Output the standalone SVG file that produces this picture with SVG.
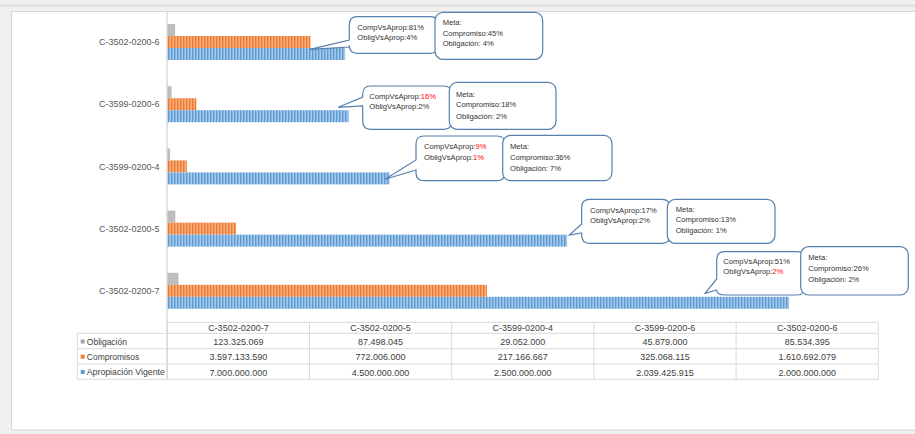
<svg xmlns="http://www.w3.org/2000/svg" width="915" height="434" viewBox="0 0 915 434">
<style>
text{font-family:"Liberation Sans",Arial,sans-serif;fill:#404040}
.cat{font-size:9px;text-anchor:end;fill:#595959}
.tb{font-size:9px;text-anchor:middle}
.lg{font-size:8.5px}
.co{font-size:7.6px;fill:#333}
.red{fill:#ff0000}
.box{fill:#fff;stroke:#5680ad;stroke-width:1.2}
.grid{stroke:#d9d9d9;stroke-width:1;fill:none}
.g{fill:#bdbdbd}
.o{fill:url(#po)}
.b{fill:url(#pb)}
</style>
<defs>
<pattern id="po" width="3" height="12" patternUnits="userSpaceOnUse">
<rect width="3" height="12" fill="#f6ad80"/>
<rect width="1.4" height="12" fill="#ec7a30"/>
</pattern>
<pattern id="pb" width="3" height="12" patternUnits="userSpaceOnUse">
<rect width="3" height="12" fill="#a6c9ea"/>
<rect width="1.4" height="12" fill="#5b9bd5"/>
</pattern>
</defs>
<rect x="0" y="0" width="915" height="434" fill="#f0f0f0"/>
<rect x="0" y="4" width="915" height="3" fill="#e4e4e4"/>
<rect x="11.5" y="11.5" width="905" height="418.5" fill="#fff" stroke="#d6d6d6"/>

<g id="axis">
<line x1="167" y1="12" x2="167" y2="379" stroke="#c8c8c8"/>
</g>

<g id="cat-C-3502-0200-6">
<text class="cat" x="159.5" y="45.2">C-3502-0200-6</text>
<rect class="g" x="167.5" y="24" width="7.6" height="12"/>
<rect class="o" x="167.5" y="36" width="143" height="12"/>
<rect class="b" x="167.5" y="48" width="177.6" height="12"/>
</g>
<g id="cat-C-3599-0200-6">
<text class="cat" x="159.5" y="107.4">C-3599-0200-6</text>
<rect class="g" x="167.5" y="86.2" width="4.1" height="12"/>
<rect class="o" x="167.5" y="98.2" width="28.9" height="12"/>
<rect class="b" x="167.5" y="110.2" width="181.1" height="12"/>
</g>
<g id="cat-C-3599-0200-4">
<text class="cat" x="159.5" y="169.6">C-3599-0200-4</text>
<rect class="g" x="167.5" y="148.4" width="2.6" height="12"/>
<rect class="o" x="167.5" y="160.4" width="19.3" height="12"/>
<rect class="b" x="167.5" y="172.4" width="222" height="12"/>
</g>
<g id="cat-C-3502-0200-5">
<text class="cat" x="159.5" y="231.8">C-3502-0200-5</text>
<rect class="g" x="167.5" y="210.6" width="7.8" height="12"/>
<rect class="o" x="167.5" y="222.6" width="68.6" height="12"/>
<rect class="b" x="167.5" y="234.6" width="399.6" height="12"/>
</g>
<g id="cat-C-3502-0200-7">
<text class="cat" x="159.5" y="294">C-3502-0200-7</text>
<rect class="g" x="167.5" y="272.8" width="11" height="12"/>
<rect class="o" x="167.5" y="284.8" width="319.4" height="12"/>
<rect class="b" x="167.5" y="296.8" width="621.6" height="12"/>
</g>

<g id="connectors"></g>

<g id="callout-1">
<path class="box" d="M357.3,16.7 H430.3 Q438.3,16.7 438.3,24.7 V45.3 Q438.3,53.3 430.3,53.3 H357.3 Q349.3,53.3 349.3,45.3 V47 L310,49.3 L349.3,40 V24.7 Q349.3,16.7 357.3,16.7 Z"/>
<text class="co" x="357.3" y="29.5">CompVsAprop:81%</text>
<text class="co" x="357.3" y="40">ObligVsAprop:4%</text>
</g>
<g id="meta-1">
<rect class="box" x="435" y="12.3" width="107.7" height="47" rx="8"/>
<text class="co" x="442.7" y="25">Meta:</text>
<text class="co" x="442.7" y="35.5">Compromiso:45%</text>
<text class="co" x="442.7" y="46">Obligación: 4%</text>
</g>

<g id="callout-2">
<path class="box" d="M370.7,86 H443.7 Q451.7,86 451.7,94 V121.3 Q451.7,129.3 443.7,129.3 H370.7 Q362.7,129.3 362.7,121.3 V106 L338.3,107.3 L362.7,97 V94 Q362.7,86 370.7,86 Z"/>
<text class="co" x="369.3" y="98.7">CompVsAprop:<tspan class="red">16%</tspan></text>
<text class="co" x="369.3" y="109.3">ObligVsAprop:2%</text>
</g>
<g id="meta-2">
<rect class="box" x="449.3" y="82.3" width="106.7" height="47" rx="8"/>
<text class="co" x="456" y="97">Meta:</text>
<text class="co" x="456" y="107">Compromiso:18%</text>
<text class="co" x="456" y="118.7">Obligación: 2%</text>
</g>

<g id="callout-3">
<path class="box" d="M424,136 H497 Q505,136 505,144 V172.7 Q505,180.7 497,180.7 H424 Q416,180.7 416,172.7 V170 L385,179.3 L416,160 V144 Q416,136 424,136 Z"/>
<text class="co" x="424" y="148.7">CompVsAprop:<tspan class="red">9%</tspan></text>
<text class="co" x="424" y="160">ObligVsAprop:<tspan class="red">1%</tspan></text>
</g>
<g id="meta-3">
<rect class="box" x="502.7" y="135.3" width="109.3" height="45.4" rx="8"/>
<text class="co" x="510" y="148.7">Meta:</text>
<text class="co" x="510" y="160">Compromiso:36%</text>
<text class="co" x="510" y="171.3">Obligación: 7%</text>
</g>

<g id="callout-4">
<path class="box" d="M589.7,199.3 H662 Q670,199.3 670,207.3 V235.3 Q670,243.3 662,243.3 H589.7 Q581.7,243.3 581.7,235.3 V233 L569.3,235 L581.7,224 V207.3 Q581.7,199.3 589.7,199.3 Z"/>
<text class="co" x="590" y="212.7">CompVsAprop:17%</text>
<text class="co" x="590" y="223.3">ObligVsAprop:2%</text>
</g>
<g id="meta-4">
<rect class="box" x="667.3" y="199.3" width="107.7" height="44" rx="8"/>
<text class="co" x="675.7" y="212">Meta:</text>
<text class="co" x="675.7" y="222">Compromiso:13%</text>
<text class="co" x="675.7" y="233.3">Obligación: 1%</text>
</g>

<g id="callout-5">
<path class="box" d="M724.7,251.7 H797 Q805,251.7 805,259.7 V287 Q805,295 797,295 H724.7 Q716.7,295 716.7,290 L705,293.3 L716.7,279 V259.7 Q716.7,251.7 724.7,251.7 Z"/>
<text class="co" x="723.3" y="264.3">CompVsAprop:51%</text>
<text class="co" x="723.3" y="274.3">ObligVsAprop:<tspan class="red">2%</tspan></text>
</g>
<g id="meta-5">
<rect class="box" x="800.7" y="246.7" width="107.6" height="48.3" rx="8"/>
<text class="co" x="808.3" y="260">Meta:</text>
<text class="co" x="808.3" y="271">Compromiso:26%</text>
<text class="co" x="808.3" y="281.7">Obligación: 2%</text>
</g>

<g id="table">
<path class="grid" d="M167.3,322.3 H878.3 M77.3,333.3 H878.3 M77.3,348.7 H878.3 M77.3,364 H878.3 M77.3,379.3 H878.3 M77.3,333.3 V379.3 M167.3,322.3 V379.3 M309.5,322.3 V379.3 M451.7,322.3 V379.3 M593.9,322.3 V379.3 M736.1,322.3 V379.3 M878.3,322.3 V379.3"/>
<text class="tb" x="238.4" y="330.8">C-3502-0200-7</text>
<text class="tb" x="380.6" y="330.8">C-3502-0200-5</text>
<text class="tb" x="522.8" y="330.8">C-3599-0200-4</text>
<text class="tb" x="665" y="330.8">C-3599-0200-6</text>
<text class="tb" x="807.2" y="330.8">C-3502-0200-6</text>
<rect x="80.7" y="339.5" width="4" height="4" fill="#a5a5a5"/>
<text class="lg" x="86.8" y="344.5">Obligación</text>
<rect x="80.7" y="354.7" width="4" height="4" fill="#ed7d31"/>
<text class="lg" x="86.8" y="359.8">Compromisos</text>
<rect x="80.7" y="370" width="4" height="4" fill="#5b9bd5"/>
<text class="lg" x="86.8" y="375" textLength="78" lengthAdjust="spacingAndGlyphs">Apropiación Vigente</text>
<text class="tb" x="238.4" y="345">123.325.069</text>
<text class="tb" x="380.6" y="345">87.498.045</text>
<text class="tb" x="522.8" y="345">29.052.000</text>
<text class="tb" x="665" y="345">45.879.000</text>
<text class="tb" x="807.2" y="345">85.534.395</text>
<text class="tb" x="238.4" y="360.3">3.597.133.590</text>
<text class="tb" x="380.6" y="360.3">772.006.000</text>
<text class="tb" x="522.8" y="360.3">217.166.667</text>
<text class="tb" x="665" y="360.3">325.068.115</text>
<text class="tb" x="807.2" y="360.3">1.610.692.079</text>
<text class="tb" x="238.4" y="375.5">7.000.000.000</text>
<text class="tb" x="380.6" y="375.5">4.500.000.000</text>
<text class="tb" x="522.8" y="375.5">2.500.000.000</text>
<text class="tb" x="665" y="375.5">2.039.425.915</text>
<text class="tb" x="807.2" y="375.5">2.000.000.000</text>
</g>
</svg>
